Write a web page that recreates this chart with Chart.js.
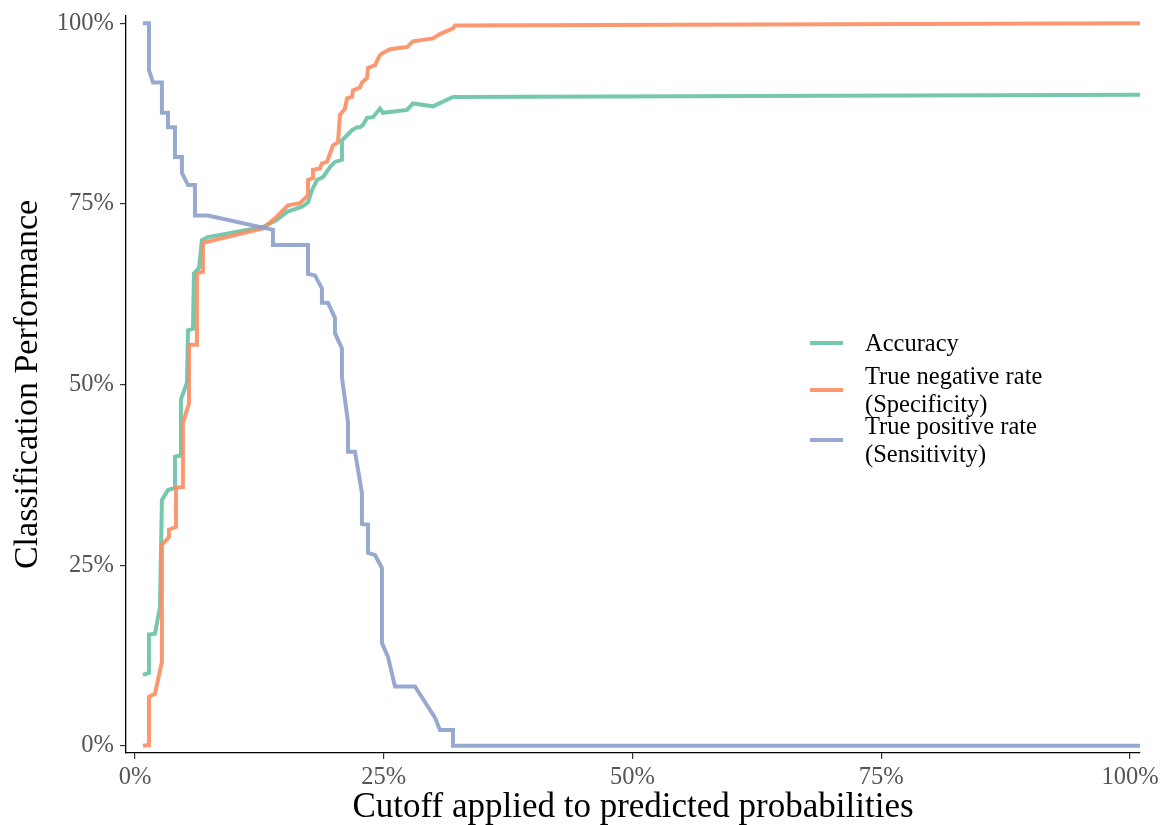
<!DOCTYPE html>
<html>
<head>
<meta charset="utf-8">
<script src="https://cdn.jsdelivr.net/npm/chart.js@4"></script>
<style>
  html, body { margin: 0; padding: 0; background: #fff; }
  #wrap { width: 1160px; height: 825px; }
</style>
</head>
<body>
<div id="wrap"><canvas id="chart" width="1160" height="825"></canvas></div>
<script>
// --- Data (percent) ---
const accCutoff = [0.8, 1.41, 1.41, 2.01, 2.51, 2.71, 3.32, 4.02, 4.02, 4.62, 4.62, 5.23, 5.33, 5.83, 5.93, 6.43, 6.63, 6.73, 7.34, 12.86,
  14.27, 15.28, 16.78, 17.39, 17.79, 18.29, 18.89, 19.6, 20.1, 20.8, 20.8, 21.31, 21.81, 22.31, 22.61, 22.91, 23.32, 23.92, 24.62, 24.92,
  27.34, 27.94, 29.95, 31.96, 101];
const accValue  = [9.8, 10.1, 15.4, 15.5, 19.2, 34.0, 35.4, 35.7, 40.0, 40.2, 47.9, 50.3, 57.5, 57.7, 65.4, 66.1, 68.6, 70.0, 70.4, 71.8,
  72.8, 73.9, 74.6, 75.2, 76.9, 78.3, 78.7, 80.1, 80.8, 81.1, 83.8, 84.5, 85.2, 85.6, 85.6, 85.9, 86.9, 87.0, 88.2, 87.6,
  88.0, 88.9, 88.5, 89.8, 90.1];

const tnrCutoff = [0.8, 1.41, 1.41, 2.01, 2.71, 2.71, 3.42, 3.42, 4.12, 4.12, 4.82, 4.82, 5.43, 5.43, 6.23, 6.23, 6.83, 6.83, 12.86,
  14.07, 15.38, 16.58, 17.09, 17.39, 17.39, 17.89, 17.89, 18.59, 18.79, 19.3, 19.9, 20.4, 20.6, 21.11, 21.31, 21.81, 21.91, 22.61,
  22.81, 23.32, 23.42, 24.12, 24.62, 24.92, 25.63, 27.34, 27.94, 29.95, 30.65, 31.96, 32.16, 101];
const tnrValue  = [0, 0.1, 6.8, 7.2, 11.6, 27.8, 28.9, 29.9, 30.3, 35.7, 35.8, 44.7, 47.4, 55.5, 55.5, 65.4, 65.6, 69.6, 71.6,
  73.0, 74.8, 75.1, 75.8, 76.2, 78.3, 78.6, 79.7, 79.9, 80.6, 80.8, 83.1, 83.5, 87.3, 88.2, 89.6, 89.8, 90.7, 91.1,
  91.8, 92.4, 93.8, 94.2, 95.6, 95.9, 96.4, 96.7, 97.5, 97.9, 98.5, 99.3, 99.7, 100];

const tprCutoff = [0.8, 1.41, 1.41, 1.81, 2.71, 2.71, 3.32, 3.32, 4.02, 4.02, 4.72, 4.72, 5.33, 6.03, 6.03, 7.34, 13.87, 13.87,
  17.39, 17.39, 18.09, 18.79, 18.79, 19.4, 20.1, 20.1, 20.8, 20.8, 21.41, 21.41, 22.11, 22.81, 22.81, 23.42, 23.42, 24.12, 24.82,
  24.82, 25.43, 26.13, 28.14, 30.15, 30.65, 31.96, 31.96, 101];
const tprValue  = [100, 100, 93.5, 91.8, 91.8, 87.6, 87.6, 85.6, 85.6, 81.5, 81.5, 79.3, 77.6, 77.6, 73.4, 73.4, 71.4, 69.3,
  69.3, 65.3, 65.1, 63.3, 61.3, 61.3, 59.2, 57.1, 55.0, 51.0, 44.8, 40.7, 40.7, 35.0, 30.7, 30.6, 26.7, 26.4, 24.6,
  14.2, 12.3, 8.2, 8.2, 3.9, 2.2, 2.2, 0, 0];

const seriesLabels = ['Accuracy', ['True negative rate', '(Specificity)'], ['True positive rate', '(Sensitivity)']];
const seriesColors = ['rgba(102,194,165,0.9)', 'rgba(252,141,98,0.9)', 'rgba(141,160,203,0.9)'];
const tickValues = [0, 25, 50, 75, 100];

const SERIF = "'Liberation Serif', 'Times New Roman', serif";

function toPoints(xs, ys) {
  return xs.map((x, i) => ({ x: x, y: ys[i] }));
}

const seriesData = [
  toPoints(accCutoff, accValue),
  toPoints(tnrCutoff, tnrValue),
  toPoints(tprCutoff, tprValue),
];

// --- Legend drawn inside the plot, right side ---
const insideLegend = {
  id: 'insideLegend',
  afterDraw(chart) {
    const ctx = chart.ctx;
    const keyY = [343, 390, 440];
    const lineH = 28;
    ctx.save();
    ctx.font = '24.5px ' + SERIF;
    ctx.textBaseline = 'middle';
    ctx.textAlign = 'left';
    chart.data.datasets.forEach((ds, i) => {
      ctx.strokeStyle = ds.borderColor;
      ctx.lineWidth = 4;
      ctx.beginPath();
      ctx.moveTo(810, keyY[i]);
      ctx.lineTo(843, keyY[i]);
      ctx.stroke();
      const lines = Array.isArray(ds.label) ? ds.label : [ds.label];
      const y0 = keyY[i] + 1.5 - (lines.length - 1) * lineH / 2;
      ctx.fillStyle = '#000';
      lines.forEach((t, j) => ctx.fillText(t, 865, y0 + j * lineH));
    });
    ctx.restore();
  }
};

const axisCommon = {
  type: 'linear',
  grid: { display: true, drawOnChartArea: false, drawTicks: true, tickLength: 6, color: '#333', lineWidth: 1.2 },
  border: { display: true, color: '#000', width: 1.3 },
  afterBuildTicks: (scale) => { scale.ticks = tickValues.map(v => ({ value: v })); },
};

new Chart(document.getElementById('chart'), {
  type: 'line',
  data: {
    datasets: seriesData.map((pts, i) => ({
      label: seriesLabels[i],
      data: pts,
      borderColor: seriesColors[i],
      backgroundColor: seriesColors[i],
      borderWidth: 4,
      pointRadius: 0,
      tension: 0,
      fill: false,
      order: 3 - i,
    }))
  },
  options: {
    animation: false,
    responsive: false,
    layout: { padding: { top: 16, right: 20, left: 0, bottom: 0 } },
    plugins: { legend: { display: false }, tooltip: { enabled: false } },
    scales: {
      x: {
        ...axisCommon,
        min: -0.9,
        max: 101,
        ticks: { color: '#555', padding: 4, font: { family: SERIF, size: 24.5 }, callback: v => v + '%', maxRotation: 0 },
        title: { display: true, text: 'Cutoff applied to predicted probabilities', color: '#000',
                 font: { family: SERIF, size: 35, lineHeight: 0.96 }, padding: { top: 0, bottom: 0 } },
        afterFit: (scale) => { scale.height = 72; scale.paddingLeft = 0; scale.paddingRight = 0; },
      },
      y: {
        ...axisCommon,
        min: -1,
        max: 101,
        ticks: { color: '#555', padding: 6, font: { family: SERIF, size: 24.5 }, callback: v => v + '%' },
        title: { display: true, text: 'Classification Performance', color: '#000',
                 font: { family: SERIF, size: 34, lineHeight: 1 }, padding: { top: 11, bottom: 0 } },
        afterFit: (scale) => { scale.width = 126; scale.paddingTop = 0; scale.paddingBottom = 0; },
      }
    }
  },
  plugins: [insideLegend]
});
</script>
</body>
</html>
